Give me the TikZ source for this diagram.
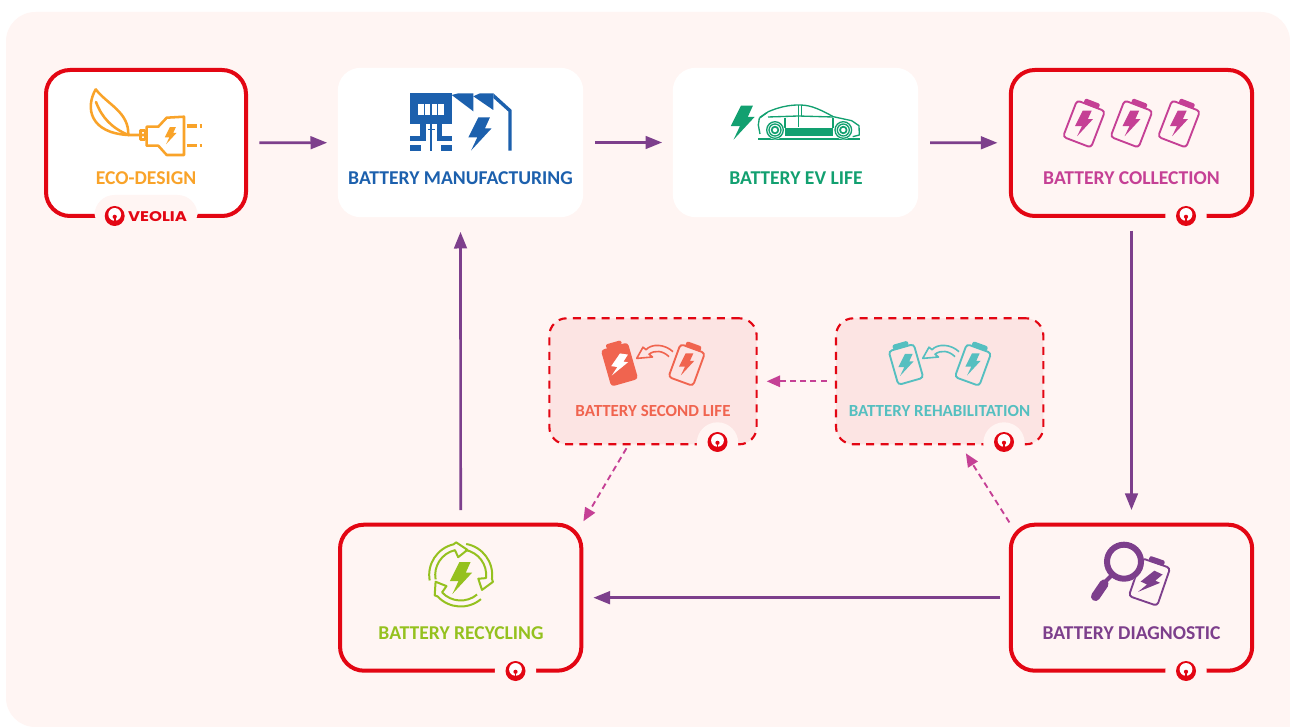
\documentclass[tikz,border=0pt]{standalone}
\usepackage{fontspec}
\setmainfont{Carlito}
\newfontfamily\logofont{Poppins}
\usetikzlibrary{arrows.meta}
\definecolor{pagebg}{HTML}{FFF5F3}
\definecolor{softbg}{HTML}{FCE4E3}
\definecolor{vred}{HTML}{E30613}
\definecolor{ecoc}{HTML}{F9A329}
\definecolor{manuc}{HTML}{1C60AD}
\definecolor{lifec}{HTML}{12A070}
\definecolor{collc}{HTML}{C54095}
\definecolor{diagc}{HTML}{7D3F8C}
\definecolor{recyc}{HTML}{95C11F}
\definecolor{secc}{HTML}{F0644F}
\definecolor{rehc}{HTML}{55BFC0}
\tikzset{
  redbox/.style={draw=vred,line width=3pt,rounded corners=18pt,inner sep=0pt,outer sep=0pt,minimum width=181pt,minimum height=109.5pt},
  plainbox/.style={fill=white,rounded corners=17pt,inner sep=0pt,outer sep=0pt,minimum width=184pt,minimum height=112pt},
  dashbox/.style={draw=vred,fill=softbg,line width=1.6pt,dash pattern=on 6pt off 4.8pt,rounded corners=13pt,inner sep=0pt,outer sep=0pt,minimum width=155.5pt,minimum height=94.5pt},
  biglabel/.style={font=\bfseries\fontsize{14.7}{16}\selectfont,inner sep=0pt},
  smalllabel/.style={font=\bfseries\fontsize{12.7}{14}\selectfont,inner sep=0pt},
  flow/.style={diagc,line width=2pt,-{Triangle[length=12.5pt,width=9.5pt]}},
  dashflow/.style={collc,line width=1.4pt,dash pattern=on 4.5pt off 3.2pt,-{Triangle[length=10pt,width=8.5pt]}}
}
\newcommand{\zap}[5]{\fill[#5,shift={(#1,-#2)},rotate=#3,scale=#4] (-.05,.5)--(.3,.5)--(.15,.17)--(.35,.17)--(-.27,-.5)--(-.08,-.1)--(-.35,-.1)--cycle;}
\newcommand{\cellicon}[6]{\begin{scope}[shift={(#1,-#2)},rotate=#3]
  \draw[#4,line width=1.4pt,rounded corners=2.5] (-#5/2,-#6/2) rectangle (#5/2,#6/2);
  \fill[#4,rounded corners=1.5,draw=none] (-8,#6/2-.5) rectangle (8,#6/2+5);
\end{scope}}
\newcommand{\logomark}[2]{\fill[vred] (#1,-#2) circle (10);
  \fill[white] (#1,-#2+1.6) circle (6.4);
  \fill[vred] (#1,-#2-.8) circle (2.1);
  \fill[vred] (#1-.9,-#2-.8) rectangle (#1+.9,-#2-8);}
\newcommand{\swaparrow}[3]{\draw[#3,line width=1.2pt,line join=round,shift={(#1,-#2)}] (18,0) .. controls (10,7.5) and (-3,8.5) .. (-9,2) -- (-12,4.5) -- (-18.3,-6.7) -- (-2.5,-5.3) -- (-6,-2.5) .. controls (0,2) and (8,1) .. (14,-5);}
\begin{document}
\begin{tikzpicture}[x=.75pt,y=.75pt]
  \useasboundingbox (0,0) rectangle (1290,-727);
  \fill[white] (0,0) rectangle (1290,-727);
  \fill[pagebg,rounded corners=22pt] (6,-12) rectangle (1290,-727);
  \fill[pagebg] (1200,-650) rectangle (1290,-727);
  % boxes
  \node[redbox,fill=white,minimum width=150pt] (eco) at (146,-143) {};
  \node[plainbox] (manufacturing) at (460.5,-142.5) {};
  \node[plainbox] (evlife) at (795.5,-142.5) {};
  \node[redbox] (collection) at (1131.5,-143) {};
  \node[redbox] (recycling) at (460.7,-597.7) {};
  \node[redbox] (diagnostic) at (1131.5,-597.7) {};
  \node[dashbox] (secondlife) at (653,-381.3) {};
  \node[dashbox] (rehab) at (939.7,-381.3) {};
  % bubbles and logos
  \fill[pagebg,rounded corners=15pt] (94.5,-195) rectangle (197.5,-232);
  \foreach \x/\y in {1186/216,515.5/671,1186/671,717.5/443,1004/443}\fill[pagebg] (\x,-\y) circle (20.7);
  \foreach \x/\y in {114.7/216,1186/216,515.5/671,1186/671,717.5/442,1004/442}{\logomark{\x}{\y}}
  \node[text=vred,font=\logofont\bfseries\fontsize{10.5}{12}\selectfont,inner sep=0pt,xscale=1.18] (veolia) at (157.5,-216.5) {VEOLIA};
  % eco-design icon
  \begin{scope}[ecoc,line width=1.9pt,line join=round,line cap=round]
    \draw (95.7,-89.3) .. controls (85,-108) and (90,-133) .. (128.3,-135) .. controls (129,-112) and (108,-105) .. (95.7,-89.3);
    \draw (96,-102) .. controls (102,-118) and (112,-128) .. (128.3,-135) -- (146,-135);
    \draw (140.5,-130.5) rectangle (145,-139.5);
    \draw (146.7,-126.7)--(158.3,-126.7)--(166.7,-117.7)--(184,-116.7)--(184,-155)--(166.7,-155)--(158.3,-145.7)--(146.7,-145.7)--cycle;
    \foreach \y in {125.9,145.7}{\draw[line width=2.6pt,line cap=butt] (186.7,-\y)--(197,-\y) (199.5,-\y)--(202,-\y);}
  \end{scope}
  \zap{170.7}{135.7}{0}{17}{ecoc}
  % factory icon
  \fill[manuc] (410,-93.3) rectangle (451.7,-124);
  \fill[white] (417.7,-104) rectangle (444.3,-114.7);
  \foreach \x in {424,430.4,436.8}\fill[manuc] (\x,-104) rectangle (\x+1.4,-114.7);
  \foreach \a/\b in {420/425.7,436.7/441.7}\fill[manuc] (\a,-124) rectangle (\b,-135.7);
  \foreach \a/\b in {410/425.7,436.7/451.7}\fill[manuc] (\a,-135.7) rectangle (\b,-141.3);
  \foreach \a/\b in {410/421,441/451.7}\fill[manuc] (\a,-145.3) rectangle (\b,-150.7);
  \fill[manuc] (430,-124) rectangle (432,-150.7);
  \fill[manuc] (427.7,-128.8) rectangle (435,-130.2);
  \fill[manuc] (458.3,-93.3)--(473.3,-93.3)--(473.3,-111.3)--(451.7,-95)--cycle;
  \fill[manuc] (480,-93.3)--(493.3,-93.3)--(493.3,-110)--(473.3,-96.3)--cycle;
  \fill[manuc] (493.3,-93.3)--(511.7,-110)--(511.7,-150.7)--(508.3,-150.7)--(508.3,-111.5)--(493.3,-98)--cycle;
  \zap{480}{134}{0}{33}{manuc}
  % car icon
  \zap{742.7}{122.7}{0}{34}{lifec}
  \begin{scope}[lifec,line width=1pt,line join=round]
    \draw (760,-134) -- (758.3,-125) -- (759.3,-118.3) -- (768.3,-111.7) .. controls (778,-107.5) and (788,-105) .. (798.3,-105) .. controls (808,-105) and (815,-106.5) .. (833.3,-116.7) -- (851.7,-120.7) -- (859,-125.7) -- (859.3,-135) -- (852.7,-136.7);
    \draw (760,-117.3) -- (767,-112.5) (768,-117) -- (798.3,-116) -- (833,-117);
    \draw (798.3,-105.5) -- (798.3,-127) (801.7,-105.5) -- (801.7,-116);
    \draw (785,-118) -- (785,-128) (833,-118) -- (833,-128);
    \fill (785,-128.3) rectangle (833.3,-136);
    \draw[line width=1.1pt] (758.3,-138.8) -- (860,-138.8);
    \foreach \x in {775,843.3}{
      \fill[white] (\x,-130) circle (9.5);
      \draw (\x,-130) circle (8.3) (\x,-130) circle (6);
      \draw[line width=1.3pt] (\x,-130) circle (3.3);
    }
  \end{scope}
  % collection icon
  \foreach \x in {1084,1131.5,1179}{
    \cellicon{\x}{124}{-21}{collc}{30}{39}
    \zap{\x}{123.5}{0}{25.5}{collc}
  }
  % second life icon
  \begin{scope}[shift={(619.5,-364.5)},rotate=16]
    \fill[secc,rounded corners=2.5] (-14,-19) rectangle (14,19);
    \fill[secc,rounded corners=1.5] (-8,18.5) rectangle (8,23);
  \end{scope}
  \zap{619.5}{365}{-8}{23}{white}
  \cellicon{686.7}{365}{-20}{secc}{26}{35}
  \zap{686.7}{364.5}{0}{22}{secc}
  \swaparrow{655}{351.7}{secc}
  % rehabilitation icon
  \cellicon{906}{364.5}{16}{rehc}{26}{35}
  \zap{906}{365}{0}{22}{rehc}
  \cellicon{973}{365}{-20}{rehc}{26}{35}
  \zap{973}{364.5}{0}{22}{rehc}
  \swaparrow{941}{351.7}{rehc}
  % recycling icon
  \foreach \a in {0,-110,-240}{
    \draw[recyc,line width=1.5pt,line join=round,shift={(460.7,-575)},rotate=\a] (190:31.5) arc[start angle=190,end angle=103,radius=31.5] -- (98:33) -- (75:26) -- (98:18) -- (103:25.5) arc[start angle=103,end angle=190,radius=25.5];
  }
  \zap{461}{578}{0}{32}{recyc}
  % diagnostic icon
  \cellicon{1149.5}{582}{-19}{diagc}{30}{40}
  \zap{1150}{583}{-25}{26}{diagc}
  \fill[pagebg] (1124,-561.7) circle (20);
  \draw[diagc,line width=4.5pt] (1124,-561.7) circle (17);
  \draw[pagebg,line width=.8pt,line cap=round] (1112,-561.5) arc[start angle=180,end angle=115,radius=12];
  \draw[diagc,line width=3pt] (1112,-575) -- (1103,-584);
  \draw[diagc,line width=6.8pt,line cap=round] (1104,-584) -- (1095.5,-596.5);
  % labels
  \node[biglabel,text=ecoc] (ecolabel) at (146,-178) {ECO-DESIGN};
  \node[biglabel,text=manuc] (manufacturinglabel) at (460.5,-178) {BATTERY MANUFACTURING};
  \node[biglabel,text=lifec] (evlifelabel) at (796,-178) {BATTERY EV LIFE};
  \node[biglabel,text=collc] (collectionlabel) at (1131.5,-178) {BATTERY COLLECTION};
  \node[biglabel,text=recyc] (recyclinglabel) at (461,-633) {BATTERY RECYCLING};
  \node[biglabel,text=diagc] (diagnosticlabel) at (1131.5,-633) {BATTERY DIAGNOSTIC};
  \node[smalllabel,text=secc] (secondlabel) at (653,-411) {BATTERY SECOND LIFE};
  \node[smalllabel,text=rehc] (rehablabel) at (939.5,-411) {BATTERY REHABILITATION};
  % connectors
  \draw[flow,shorten <=10pt,shorten >=8pt] (eco) -- (manufacturing);
  \draw[flow,shorten <=9pt,shorten >=8pt] (manufacturing) -- (evlife);
  \draw[flow,shorten <=9pt,shorten >=10pt] (evlife) -- (collection);
  \draw[flow,shorten <=11pt,shorten >=11pt] (collection) -- (diagnostic);
  \draw[flow,shorten <=8pt,shorten >=9pt] (diagnostic) -- (recycling);
  \draw[flow,shorten <=11pt,shorten >=11pt] (recycling.north) -- (manufacturing.south);
  \draw[dashflow,shorten <=7pt,shorten >=7.5pt] (rehab) -- (secondlife);
  \draw[dashflow,shorten <=2pt,shorten >=8pt] (diagnostic.north west) -- (rehab.-72);
  \draw[dashflow,shorten <=3.5pt,shorten >=3pt] (secondlife.-111) -- (recycling.north east);
\end{tikzpicture}
\end{document}
